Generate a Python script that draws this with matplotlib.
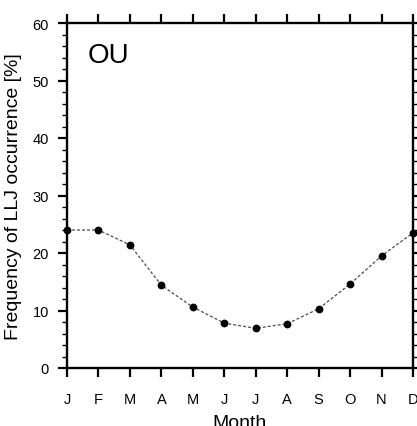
import numpy as np
import matplotlib
matplotlib.use("Agg")
from matplotlib import pyplot as plt
from matplotlib.ticker import MultipleLocator

# Monthly frequency of low-level jet occurrence at OU
months = ["J", "F", "M", "A", "M", "J", "J", "A", "S", "O", "N", "D"]
freq = [24.0, 24.0, 21.4, 14.4, 10.6, 7.8, 6.9, 7.7, 10.3, 14.6, 19.5, 23.5]
site = "OU"

plt.rcParams["font.family"] = ["Liberation Sans", "DejaVu Sans"]

fig = plt.figure(figsize=(4.17, 4.27), dpi=100)
ax = fig.add_axes([67 / 417, 58 / 427, 346 / 417, 345 / 427])

x = np.arange(len(months))
ax.plot(x, freq, linestyle=(0, (2.4, 1.6)), color="0.3", linewidth=0.9,
        marker="o", markersize=4.6, markerfacecolor="black",
        markeredgecolor="black", clip_on=False, zorder=3)

ax.set_xlim(0, len(months) - 1)
ax.set_ylim(0, 60)
ax.set_xticks(x)
ax.set_xticklabels(months)
ax.yaxis.set_major_locator(MultipleLocator(10))
ax.yaxis.set_minor_locator(MultipleLocator(2))

for side in ["left", "right", "top", "bottom"]:
    ax.spines[side].set_linewidth(1.7)

ax.tick_params(which="major", direction="out", length=6.5, width=1.6,
               labelsize=10.5, top=True, right=True)
ax.tick_params(which="minor", direction="out", length=3.6, width=1.0,
               top=False, right=True)
ax.tick_params(axis="x", which="minor", bottom=False, top=False)
ax.tick_params(axis="y", which="major", pad=6.5)
ax.tick_params(axis="x", which="major", pad=10.5)

ax.set_ylabel("Frequency of LLJ occurrence [%]", fontsize=14)
ax.yaxis.set_label_coords(-0.13, 0.5)
ax.set_xlabel("Month", fontsize=14)
ax.xaxis.set_label_coords(0.5, -0.133)

ax.text(0.06, 0.945, site, transform=ax.transAxes, fontsize=20,
        ha="left", va="top")

fig.savefig("out.png", dpi=100)
